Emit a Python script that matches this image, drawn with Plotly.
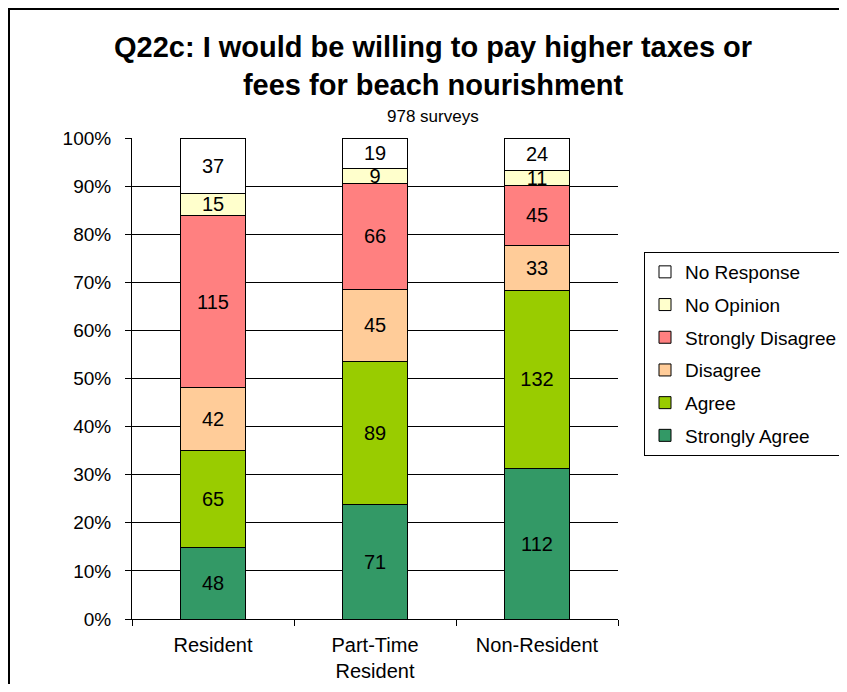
import plotly.graph_objects as go

categories = ["Resident", "Part-Time<br>Resident", "Non-Resident"]
series_names = ["Strongly Agree", "Agree", "Disagree", "Strongly Disagree", "No Opinion", "No Response"]
strongly_agree = [48, 71, 112]
agree = [65, 89, 132]
disagree = [42, 45, 33]
strongly_disagree = [115, 66, 45]
no_opinion = [15, 9, 11]
no_response = [37, 19, 24]
colors = ["#339966", "#99CC00", "#FFCC99", "#FF8080", "#FFFFCC", "#FFFFFF"]
y_ticks = [0, 10, 20, 30, 40, 50, 60, 70, 80, 90, 100]
y_tick_labels = [f"{v}%" for v in y_ticks]

FONT = "Liberation Sans, Arial, sans-serif"
series = [strongly_agree, agree, disagree, strongly_disagree, no_opinion, no_response]

# page has an 8px body margin; keep the figure inside the window
# plot area target (screen) x 132-618, y 138-619
OFF = 8
W, H = 847 - 2 * OFF, 692 - 2 * OFF
L, R, T, B = 132 - OFF, 618 - OFF, 138 - OFF, 619 - OFF
PW, PH = R - L, B - T

def px(x):
    return (x - OFF - L) / PW

def py(y):
    return (B - (y - OFF)) / PH

fig = go.Figure()
n = len(series_names)
for i, (name, vals, col) in enumerate(zip(series_names, series, colors)):
    fig.add_trace(go.Bar(
        x=categories, y=vals, name=name,
        marker=dict(color=col, line=dict(color="black", width=1)),
        text=[str(v) for v in vals],
        textposition="inside", insidetextanchor="middle", textangle=0,
        textfont=dict(family=FONT, size=20, color="black"),
        legendgroup=f"g{i}", legendrank=n - i,
    ))

fig.update_layout(
    barmode="stack", barnorm="percent", bargap=0.593,
    width=W, height=H, autosize=False,
    margin=dict(l=L, r=W - R, t=T, b=H - B, autoexpand=False),
    paper_bgcolor="white", plot_bgcolor="white",
    font=dict(family=FONT, size=19, color="black"),
    uniformtext=dict(minsize=20, mode="show"),
    showlegend=True,
    legend=dict(
        x=px(644), y=py(252), xanchor="left", yanchor="top",
        traceorder="grouped", tracegroupgap=5,
        bordercolor="black", borderwidth=1, bgcolor="white",
        font=dict(family=FONT, size=19, color="black"),
    ),
    xaxis=dict(
        showline=True, linecolor="black", linewidth=1, automargin=False,
        ticks="outside", tickson="boundaries", ticklen=6, tickcolor="black",
        tickfont=dict(family=FONT, size=20), showgrid=False,
        ticklabelstandoff=8,
    ),
    yaxis=dict(
        range=[0, 100], tickvals=y_ticks, ticktext=y_tick_labels,
        showline=True, linecolor="black", linewidth=1, automargin=False,
        ticks="outside", ticklen=6, tickcolor="black",
        showgrid=True, gridcolor="black", gridwidth=1,
        tickfont=dict(family=FONT, size=19), ticklabelstandoff=10,
        zeroline=False,
    ),
    annotations=[
        dict(text="<b>Q22c: I would be willing to pay higher taxes or<br>fees for beach nourishment</b>",
             xref="paper", yref="paper", x=px(433), y=py(66),
             xanchor="center", yanchor="middle", showarrow=False,
             font=dict(family=FONT, size=29, color="black")),
        dict(text="978 surveys", xref="paper", yref="paper",
             x=px(433), y=py(116),
             xanchor="center", yanchor="middle", showarrow=False,
             font=dict(family=FONT, size=17, color="black")),
    ],
    shapes=[
        dict(type="line", xref="paper", yref="paper",
             x0=px(8), x1=px(1000), y0=py(9), y1=py(9),
             line=dict(color="black", width=2), layer="below"),
        dict(type="line", xref="paper", yref="paper",
             x0=px(9), x1=px(9), y0=py(8), y1=py(900),
             line=dict(color="black", width=2), layer="below"),
    ],
)

fig.write_html("out.html")
